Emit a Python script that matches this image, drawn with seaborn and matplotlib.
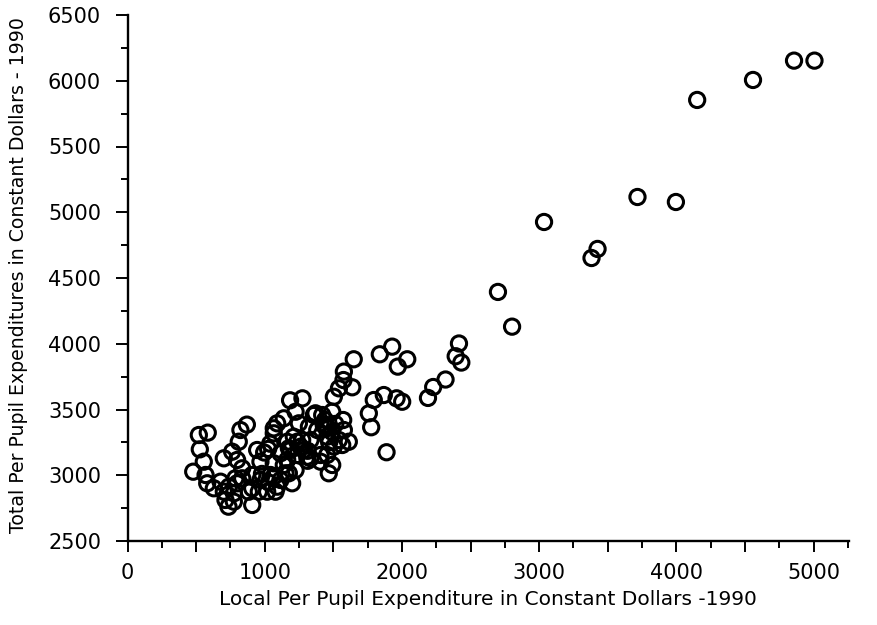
import matplotlib
matplotlib.use("Agg")
import matplotlib.pyplot as plt
import seaborn as sns
import pandas as pd
from matplotlib.ticker import MultipleLocator, FuncFormatter

local_exp = [5007, 4858, 4559, 4152, 3997, 3717, 3036, 3426, 3382, 2700, 2803,
             2416, 2392, 2433, 2318, 2228, 2190, 2039, 1970, 1929, 1839, 1649,
             1577, 1574, 1638, 1541, 1504, 1795, 1868, 1961, 2002, 1759, 1776,
             1888, 1572, 1577, 1613, 1565, 1492, 1431, 1383, 1455, 1541, 1504,
             1407, 1334, 1370, 1467, 1492, 1407, 1334, 1460, 1490, 1515, 1440,
             1470, 1358, 1419, 1443, 1455, 1185, 1275, 1212, 1249, 1225, 1261,
             1310, 1188, 1285, 1139, 1176, 1091, 1066, 1237, 1139, 1091, 1066,
             1066, 1164, 1176, 1237, 1225, 1200, 1273, 1313, 1313, 1322, 1115,
             1152, 1164, 1115, 1042, 1079, 1018, 1066, 1040, 1025, 996, 945,
             969, 969, 957, 909, 909, 909, 1030, 980, 836, 799, 870, 823, 811,
             763, 702, 836, 799, 787, 775, 739, 736, 714, 702, 678, 629, 581,
             569, 479, 556, 527, 520, 585, 884, 775]
total_exp = [6153, 6153, 6006, 5854, 5078, 5116, 4926, 4721, 4652, 4394, 4130,
             4002, 3905, 3857, 3728, 3671, 3588, 3882, 3826, 3978, 3920, 3882,
             3788, 3724, 3669, 3661, 3597, 3572, 3610, 3585, 3559, 3471, 3365,
             3175, 3420, 3344, 3255, 3230, 3483, 3382, 3344, 3293, 3268, 3217,
             3154, 3268, 3471, 3015, 3078, 3103, 3129, 3360, 3330, 3390, 3420,
             3250, 3458, 3458, 3369, 3154, 3570, 3585, 3293, 3395, 3483, 3217,
             3141, 3192, 3192, 3078, 3015, 2913, 2989, 3255, 3433, 3395, 3319,
             3357, 3255, 3205, 3154, 3040, 2939, 3268, 3186, 3110, 3369, 2964,
             3015, 3116, 3167, 3002, 2875, 2875, 3091, 3240, 3200, 3173, 3192,
             3103, 2964, 2875, 2774, 2901, 3002, 2945, 3010, 3053, 3116, 3385,
             3344, 3255, 3179, 3129, 2977, 2939, 2977, 2863, 2913, 2761, 2812,
             2875, 2951, 2901, 2939, 3002, 3027, 3103, 3197, 3306, 3324, 2875,
             2799]

x_label = "Local Per Pupil Expenditure in Constant Dollars -1990"
y_label = "Total Per Pupil Expenditures in Constant Dollars - 1990"

df = pd.DataFrame({"local": local_exp, "total": total_exp})

sns.set_style("white")
plt.rcParams["font.family"] = ["DejaVu Sans"]
plt.rcParams["text.color"] = "black"
plt.rcParams["axes.labelcolor"] = "black"
plt.rcParams["xtick.color"] = "black"
plt.rcParams["ytick.color"] = "black"

fig = plt.figure(figsize=(8.77, 6.25), dpi=100)
ax = fig.add_axes([127.5 / 877, (625 - 541) / 625, (848.5 - 127.5) / 877, (541 - 15) / 625])

sns.scatterplot(data=df, x="local", y="total", ax=ax, marker="o", s=120,
                facecolor="none", edgecolor="black", linewidth=2.2, legend=False)

ax.set_xlim(0, 5255)
ax.set_ylim(2500, 6500)

ax.xaxis.set_major_locator(MultipleLocator(500))
ax.xaxis.set_minor_locator(MultipleLocator(250))
ax.yaxis.set_major_locator(MultipleLocator(500))
ax.yaxis.set_minor_locator(MultipleLocator(250))
ax.xaxis.set_major_formatter(FuncFormatter(lambda v, p: f"{int(v)}" if int(v) % 1000 == 0 else ""))
ax.yaxis.set_major_formatter(FuncFormatter(lambda v, p: f"{int(v)}"))

for side in ["top", "right"]:
    ax.spines[side].set_visible(False)
for side in ["left", "bottom"]:
    ax.spines[side].set_linewidth(1.7)
    ax.spines[side].set_color("black")

ax.tick_params(axis="x", which="major", direction="out", length=8, width=1.4, pad=8,
               labelsize=15, bottom=True)
ax.tick_params(axis="x", which="minor", direction="out", length=5, width=1.4, bottom=True)
ax.tick_params(axis="y", which="major", direction="out", length=9, width=1.4, pad=10,
               labelsize=15, left=True)
ax.tick_params(axis="y", which="minor", direction="out", length=5, width=1.4, left=True)

ax.set_xlabel(x_label, fontsize=14.5, labelpad=5)
ax.set_ylabel(y_label, fontsize=13.6)
ax.yaxis.set_label_coords(-0.138, 0.505)
ax.grid(False)

fig.savefig("out.png", dpi=100)
